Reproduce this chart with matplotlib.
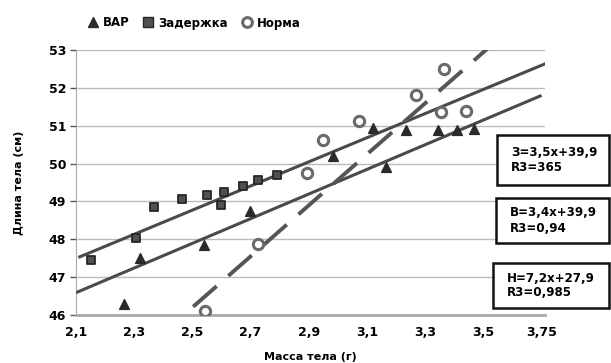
import matplotlib
matplotlib.use("Agg")
import matplotlib.pyplot as plt
from matplotlib.lines import Line2D
from matplotlib.patches import Rectangle

plt.rcParams['font.family'] = ['DejaVu Sans']

# --- data ---
zad_x = [2.152, 2.306, 2.369, 2.463, 2.551, 2.600, 2.609, 2.673, 2.725, 2.792]
zad_y = [47.45, 48.04, 48.84, 49.06, 49.17, 48.90, 49.26, 49.40, 49.56, 49.69]

var_x = [2.266, 2.320, 2.540, 2.698, 2.984, 3.122, 3.165, 3.234, 3.343, 3.410, 3.469]
var_y = [46.28, 47.50, 47.85, 48.75, 50.20, 50.93, 49.91, 50.90, 50.90, 50.88, 50.91]

norm_x = [2.543, 2.725, 2.893, 2.950, 3.074, 3.267, 3.354, 3.366, 3.439]
norm_y = [46.11, 47.87, 49.75, 50.62, 51.12, 51.82, 51.35, 52.49, 51.39]

# trend line end points
zad_trend_x = [2.108, 3.717]
zad_trend_y = [47.52, 52.65]
var_trend_x = [2.100, 3.700]
var_trend_y = [46.59, 51.80]
norm_trend_x = [2.503, 3.534]
norm_trend_y = [46.22, 53.17]

xticks = [2.1, 2.3, 2.5, 2.7, 2.9, 3.1, 3.3, 3.5, 3.7]
xtick_labels = ['2,1', '2,3', '2,5', '2,7', '2,9', '3,1', '3,3', '3,5', '3,75']
yticks = [46, 47, 48, 49, 50, 51, 52, 53]

series_names = ['ВАР', 'Задержка', 'Норма']
box_texts = ['З=3,5x+39,9\nR3=365', 'В=3,4x+39,9\nR3=0,94', 'Н=7,2x+27,9\nR3=0,985']

W, H = 611, 363
fig = plt.figure(figsize=(W / 100, H / 100), dpi=100)
ax = fig.add_axes([76 / W, 1 - 315 / H, (545 - 76) / W, (315 - 50) / H])

line_col = '#4a4a4a'
ax.plot(zad_trend_x, zad_trend_y, color=line_col, lw=2.2, solid_capstyle='butt', zorder=3)
ax.plot(var_trend_x, var_trend_y, color=line_col, lw=2.2, solid_capstyle='butt', zorder=3)
ax.plot(norm_trend_x, norm_trend_y, color='#555555', lw=2.8, dashes=(8.0, 4.0),
        dash_capstyle='butt', zorder=3)

ax.scatter(var_x, var_y, marker='^', s=50, color='#2a2a2a', edgecolor='#2a2a2a', zorder=4)
ax.scatter(zad_x, zad_y, marker='s', s=40, color='#505050', edgecolor='#262626',
           linewidth=1.3, zorder=4)
ax.scatter(norm_x, norm_y, marker='o', s=55, color='white', edgecolor='#6a6a6a',
           linewidth=2.2, zorder=5)

ax.set_xlim(2.1, 3.712)
ax.set_ylim(46, 53)
ax.set_xticks(xticks)
ax.set_xticklabels(xtick_labels, fontsize=9, fontweight='bold')
ax.set_yticks(yticks)
ax.set_yticklabels([str(v) for v in yticks], fontsize=9, fontweight='bold')
ax.tick_params(axis='x', length=0, pad=8)
ax.tick_params(axis='y', length=4, width=1, color='#555555', pad=3)
ax.grid(axis='y', color='#bbbbbb', lw=1)
ax.set_axisbelow(True)
for s in ['top', 'right']:
    ax.spines[s].set_visible(False)
ax.spines['left'].set_color('#aaaaaa')
ax.spines['bottom'].set_color('#aaaaaa')
ax.spines['bottom'].set_linewidth(2)

ax.set_xlabel('Масса тела (г)', fontsize=8, fontweight='bold', labelpad=9)
ax.set_ylabel('Длина тела (см)', fontsize=8, fontweight='bold', labelpad=18)

handles = [
    Line2D([], [], ls='none', marker='^', ms=7, color='#2a2a2a'),
    Line2D([], [], ls='none', marker='s', ms=7, markerfacecolor='#505050',
           markeredgecolor='#262626'),
    Line2D([], [], ls='none', marker='o', ms=7, markerfacecolor='white',
           markeredgecolor='#6a6a6a', markeredgewidth=2.2),
]
fig.legend(handles, series_names, loc='center left', bbox_to_anchor=(76 / W, 1 - 23 / H),
           ncol=3, frameon=False, handletextpad=0.35, columnspacing=1.1,
           handlelength=1.0, prop={'weight': 'bold', 'size': 8.5})

# equation boxes
boxes = [(497, 135, 185), (496, 198, 243), (493, 263, 308)]
for (x0, y0, y1), txt in zip(boxes, box_texts):
    rect = Rectangle((x0 / W, 1 - y1 / H), (609 - x0) / W, (y1 - y0) / H,
                     transform=fig.transFigure, facecolor='white', edgecolor='#111111',
                     lw=1.8, zorder=10)
    fig.add_artist(rect)
    fig.text((x0 + 14) / W, 1 - ((y0 + y1) / 2) / H, txt, fontsize=8.6, fontweight='bold',
             va='center', ha='left', linespacing=1.2, zorder=11)

fig.savefig('out.png', dpi=100)
